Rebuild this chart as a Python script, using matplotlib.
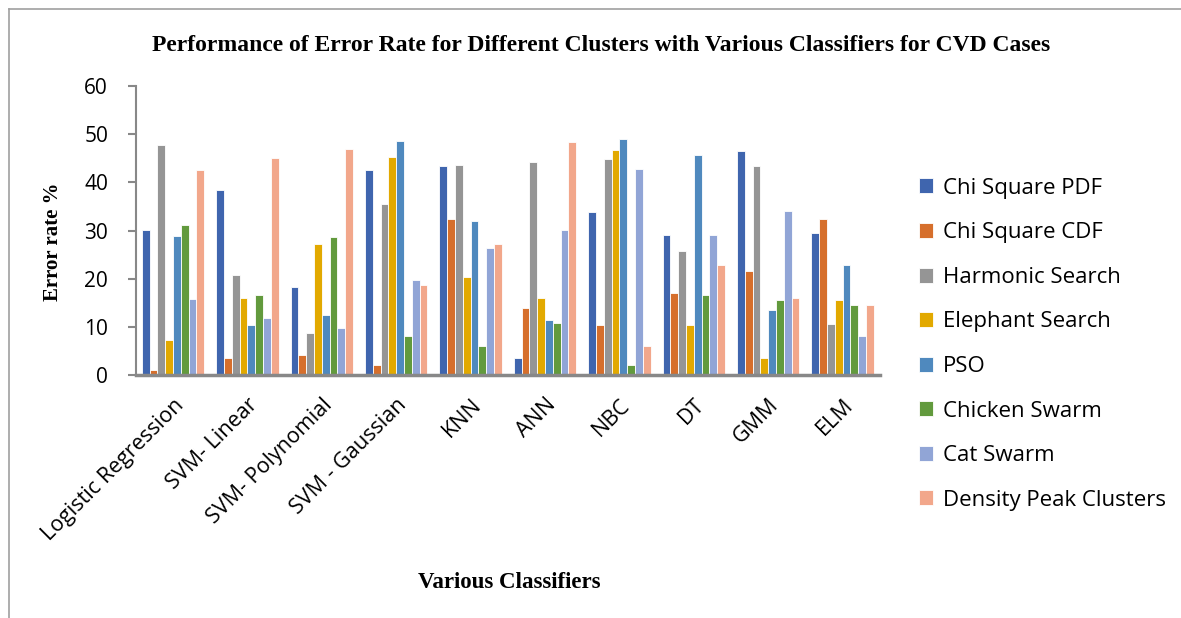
import numpy as np
import matplotlib.pyplot as plt
from matplotlib.lines import Line2D

# Dados
classifiers = ["Logistic Regression", "SVM- Linear", "SVM- Polynomial", "SVM - Gaussian",
               "KNN", "ANN", "NBC", "DT", "GMM", "ELM"]
series_names = ["Chi Square PDF", "Chi Square CDF", "Harmonic Search", "Elephant Search",
                "PSO", "Chicken Swarm", "Cat Swarm", "Density Peak Clusters"]

chi_pdf = [30.1, 38.5, 18.2, 42.5, 43.4, 3.6, 33.8, 29.1, 46.4, 29.5]
chi_cdf = [1.0, 3.6, 4.1, 2.0, 32.4, 13.9, 10.4, 17.0, 21.5, 32.4]
harmonic = [47.7, 20.8, 8.8, 35.4, 43.6, 44.3, 44.8, 25.8, 43.4, 10.6]
elephant = [7.2, 16.1, 27.3, 45.2, 20.3, 16.1, 46.8, 10.4, 3.6, 15.6]
pso = [28.9, 10.4, 12.4, 48.5, 32.0, 11.4, 48.9, 45.6, 13.5, 22.9]
chicken = [31.2, 16.6, 28.6, 8.2, 6.1, 10.8, 2.0, 16.6, 15.6, 14.5]
cat = [15.8, 11.9, 9.8, 19.7, 26.4, 30.1, 42.7, 29.1, 34.0, 8.2]
density = [42.5, 45.0, 46.9, 18.7, 27.3, 48.3, 6.1, 22.9, 16.1, 14.5]

all_series = [chi_pdf, chi_cdf, harmonic, elephant, pso, chicken, cat, density]
colors = ["#3F65AE", "#D66F2C", "#959595", "#E2A900", "#4F89BE", "#629A3D", "#91A5D6", "#F2A78B"]

fig = plt.figure(figsize=(11.81, 6.18), dpi=100)
ax = fig.add_axes([0.115, 0.393, 0.630, 0.468])

x = np.arange(len(classifiers))
w = 0.105
for i, (vals, cor) in enumerate(zip(all_series, colors)):
    ax.bar(x + (i - 3.5) * w, vals, width=w, color=cor, edgecolor="white",
           linewidth=0.6, label=series_names[i])

ax.set_xlim(-0.5, len(classifiers) - 0.5)
ax.set_ylim(0, 60)
ax.set_yticks(range(0, 61, 10))
ax.set_xticks(x)
ax.set_xticklabels(classifiers, rotation=45, ha="right", rotation_mode="anchor",
                   fontsize=15.5, family="Open Sans")
ax.tick_params(axis="x", length=0, pad=14)
ax.tick_params(axis="y", length=6, color="#888888", width=1.5, direction="out", pad=14)
for lab in ax.get_yticklabels():
    lab.set_family("Open Sans")
    lab.set_fontsize(15)
for s in ["top", "right"]:
    ax.spines[s].set_visible(False)
ax.spines["left"].set_color("#888888")
ax.spines["left"].set_linewidth(1.5)
ax.spines["bottom"].set_color("#888888")
ax.spines["bottom"].set_linewidth(2.5)

ax.set_ylabel("Error rate %", family="Liberation Serif", fontweight="bold", fontsize=15)
ax.yaxis.set_label_coords(-0.098, 0.46)
fig.text(0.431, 0.048, "Various Classifiers", family="Liberation Serif", fontweight="bold",
         fontsize=16.5, ha="center")
fig.text(0.509, 0.917, "Performance of Error Rate for Different Clusters with Various Classifiers for CVD Cases",
         family="Liberation Serif", fontweight="bold", fontsize=17, ha="center")

fig.legend(loc="center left", bbox_to_anchor=(0.761, 0.443), frameon=False,
           handlelength=0.66, handleheight=0.66, labelspacing=1.06, handletextpad=0.42,
           prop={"family": "Open Sans", "size": 16})

# Moldura (só topo e esquerda aparecem)
fig.add_artist(Line2D([0.008, 0.008], [0.0, 0.986], transform=fig.transFigure,
                      color="#A0A0A0", linewidth=1.2))
fig.add_artist(Line2D([0.008, 1.0], [0.986, 0.986], transform=fig.transFigure,
                      color="#A0A0A0", linewidth=1.2))

plt.savefig("out.png", dpi=100)
